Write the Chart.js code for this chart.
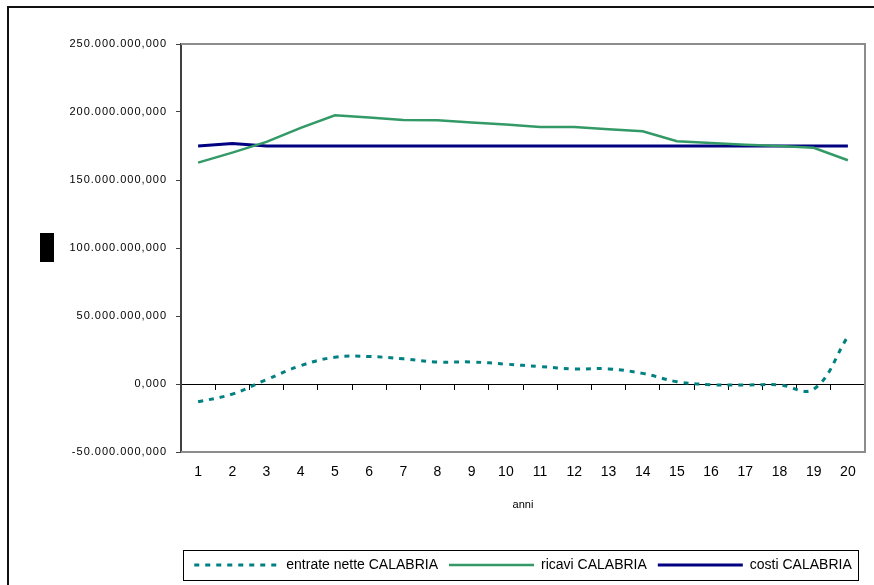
<!DOCTYPE html>
<html>
<head>
<meta charset="utf-8">
<script src="https://cdn.jsdelivr.net/npm/chart.js@4.4.1/dist/chart.umd.min.js"></script>
<style>
  html, body { margin: 0; padding: 0; background: #fff; }
  canvas { display: block; }
</style>
</head>
<body>
<canvas id="chart" width="874" height="585"></canvas>
<script>
// Categories (years of the plan)
const anni = ['1','2','3','4','5','6','7','8','9','10','11','12','13','14','15','16','17','18','19','20'];

// Net income, revenues and costs per year (euro)
const entrateNette = [-13.1e6, -7.4e6, 3.2e6, 13.5e6, 19.7e6, 20.2e6, 18.5e6, 16.2e6, 16.2e6, 14.6e6,
                      12.8e6, 11.1e6, 11.1e6, 7.8e6, 1.7e6, -0.5e6, -0.7e6, -0.7e6, -3.8e6, 35.0e6];
const ricavi = [162.8e6, 170.1e6, 178.0e6, 188.3e6, 197.6e6, 195.9e6, 194.2e6, 194.0e6, 192.3e6, 190.8e6,
                189.0e6, 189.0e6, 187.3e6, 185.8e6, 178.5e6, 177.2e6, 176.0e6, 175.0e6, 173.7e6, 164.5e6];
const costi = [175.0e6, 176.8e6, 175.0e6, 175.0e6, 175.0e6, 175.0e6, 175.0e6, 175.0e6, 175.0e6, 175.0e6,
               175.0e6, 175.0e6, 175.0e6, 175.0e6, 175.0e6, 175.0e6, 175.0e6, 175.0e6, 175.0e6, 175.0e6];

// Value axis range
const yMin = -50e6;
const yMax = 250e6;
const yStep = 50e6;

// Italian number format with three decimals: 250.000.000,000
function formatIt(v) {
  const neg = v < 0;
  const intPart = Math.abs(Math.round(v)).toString().replace(/\B(?=(\d{3})+(?!\d))/g, '.');
  return (neg ? '-' : '') + intPart + ',000';
}

const FONT = "'Liberation Sans', Arial, sans-serif";

// Slightly spaced value-axis labels
const spacedLabels = {
  id: 'spacedLabels',
  beforeDraw(chart) {
    const y = chart.scales.y;
    if (y && !y.__spaced) {
      const orig = y.drawLabels.bind(y);
      y.drawLabels = function (area) {
        const ctx = this.ctx;
        const prev = ctx.letterSpacing;
        ctx.letterSpacing = '1px';
        orig(area);
        ctx.letterSpacing = prev || '0px';
      };
      y.__spaced = true;
    }
  }
};

// Frames: outer chart border, plot-area border, legend box and the axis-title block
const frames = {
  id: 'frames',
  afterDraw(chart) {
    const ctx = chart.ctx;
    const a = chart.chartArea;
    ctx.save();
    // outer border
    ctx.strokeStyle = '#111';
    ctx.lineWidth = 2;
    ctx.strokeRect(8, 7, 1000, 1000);
    // plot area top / right / bottom
    ctx.strokeStyle = '#8c8c8c';
    ctx.lineWidth = 2;
    ctx.beginPath();
    ctx.moveTo(a.left, a.top);
    ctx.lineTo(a.right, a.top);
    ctx.lineTo(a.right, a.bottom);
    ctx.lineTo(a.left, a.bottom);
    ctx.stroke();
    // y-axis title block
    ctx.fillStyle = '#000';
    ctx.fillRect(40, 233, 14, 29);
    // legend box
    const hb = chart.legend && chart.legend.legendHitBoxes;
    if (hb && hb.length) {
      const first = hb[0], last = hb[hb.length - 1];
      const cy = first.top + first.height / 2;
      const left = first.left - 11;
      const right = last.left + last.width + 7;
      ctx.strokeStyle = '#000';
      ctx.lineWidth = 1;
      ctx.strokeRect(Math.round(left) + 0.5, Math.round(cy - 15) + 0.5, Math.round(right - left), 30);
    }
    ctx.restore();
  }
};

new Chart(document.getElementById('chart'), {
  type: 'line',
  data: {
    labels: anni,
    datasets: [
      {
        label: 'entrate nette CALABRIA',
        data: entrateNette,
        borderColor: '#008080',
        backgroundColor: '#008080',
        borderWidth: 3,
        borderDash: [5, 6],
        borderCapStyle: 'butt',
        tension: 0.4,
        pointRadius: 0,
        fill: false
      },
      {
        label: 'ricavi CALABRIA',
        data: ricavi,
        borderColor: '#339966',
        backgroundColor: '#339966',
        borderWidth: 2.5,
        tension: 0,
        pointRadius: 0,
        fill: false
      },
      {
        label: 'costi CALABRIA',
        data: costi,
        borderColor: '#000080',
        backgroundColor: '#000080',
        borderWidth: 3,
        tension: 0,
        pointRadius: 0,
        fill: false
      }
    ]
  },
  options: {
    responsive: false,
    animation: false,
    devicePixelRatio: 1,
    layout: { padding: { left: 61, right: 9, top: 44, bottom: 3 } },
    plugins: {
      tooltip: { enabled: false },
      legend: {
        position: 'bottom',
        fullSize: false,
        labels: {
          usePointStyle: true,
          pointStyle: 'line',
          pointStyleWidth: 85,
          boxHeight: 14,
          padding: 11,
          color: '#000',
          font: { family: FONT, size: 14 },
          // line samples carry each series' own dash pattern and width
          generateLabels(chart) {
            const items = Chart.defaults.plugins.legend.labels.generateLabels(chart);
            items.forEach((it) => {
              const ds = chart.data.datasets[it.datasetIndex];
              it.lineDash = ds.borderDash || [];
              it.lineWidth = ds.borderWidth;
              it.strokeStyle = ds.borderColor;
              it.fillStyle = ds.borderColor;
              it.lineCap = 'butt';
            });
            return items;
          }
        }
      }
    },
    scales: {
      x: {
        type: 'category',
        offset: true,
        grid: { display: false, drawTicks: false },
        border: { display: false },
        ticks: {
          color: '#000',
          font: { family: FONT, size: 14 },
          padding: 12,
          autoSkip: false,
          maxRotation: 0
        },
        title: {
          display: true,
          text: 'anni',
          color: '#000',
          font: { family: FONT, size: 11 },
          padding: { top: 0, bottom: 35 }
        },
        afterFit(scale) { scale.height = 95; }
      },
      xZero: {
        type: 'category',
        axis: 'x',
        position: { y: 0 },
        offset: true,
        grid: {
          display: true,
          offset: true,
          drawOnChartArea: false,
          drawTicks: true,
          tickLength: 5,
          color: '#000',
          lineWidth: 1
        },
        border: { display: true, color: '#000', width: 1 },
        ticks: { display: false }
      },
      y: {
        min: yMin,
        max: yMax,
        ticks: {
          stepSize: yStep,
          color: '#000',
          font: { family: FONT, size: 11 },
          padding: 9,
          callback: (v) => formatIt(v)
        },
        grid: {
          drawOnChartArea: false,
          drawTicks: true,
          tickLength: 5,
          color: '#404040'
        },
        border: { color: '#404040', width: 2 },
        afterFit(scale) { scale.width = 120; }
      }
    }
  },
  plugins: [spacedLabels, frames]
});
</script>
</body>
</html>
